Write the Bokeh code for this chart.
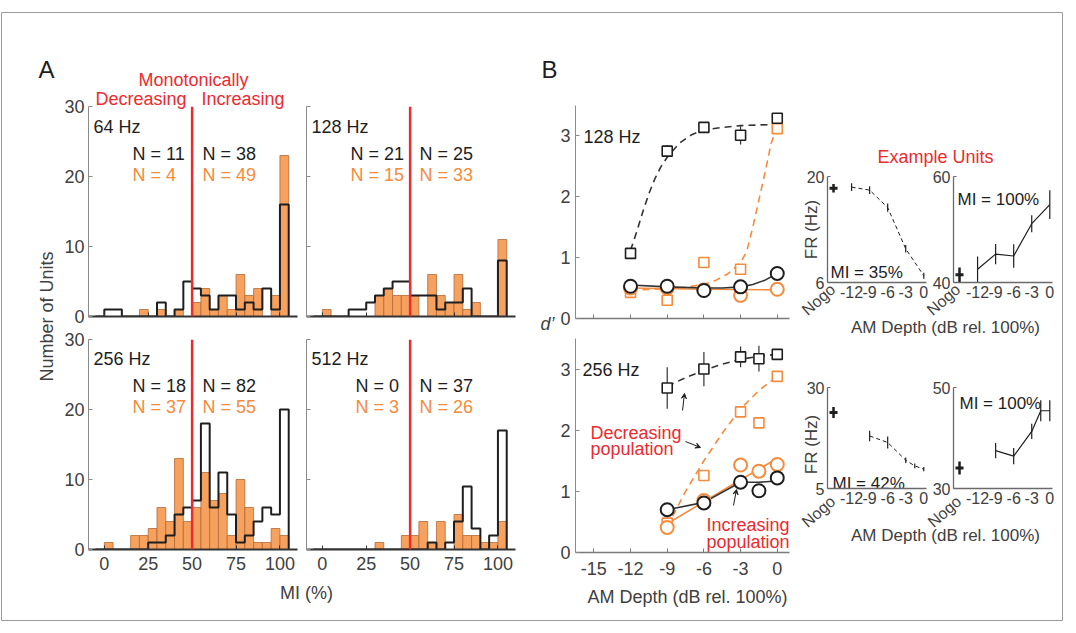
import numpy as np
from bokeh.plotting import figure
from bokeh.models import GridBox, Range1d, FixedTicker, Label, Arrow, VeeHead, Span, ColumnDataSource
from bokeh.embed import file_html
from bokeh.resources import INLINE

W, H = 1076, 633
FONT = "Liberation Sans"
ORANGE = "#F58B3C"
ORANGE_FILL = "#F69C54"
ORANGE_EDGE = "#B56A38"
RED = "#EC2B2F"
BLACK = "#1E1E1E"
TICK_TXT = "#404040"

# ---------------- Panel A data (histograms of MI) ----------------
bin_edges = [-5, 0, 5, 10, 15, 20, 25, 30, 35, 40, 45, 50, 55, 60, 65, 70, 75, 80, 85, 90, 95, 100, 105]
mi_split = 50
hist_titles = ["64 Hz", "128 Hz", "256 Hz", "512 Hz"]
black_64 = [0, 1, 1, 0, 0, 0, 0, 2, 0, 1, 5, 4, 3, 1, 3, 3, 1, 2, 1, 4, 1, 16]
orange_64 = [0, 0, 0, 0, 0, 1, 0, 1, 0, 1, 0, 2, 4, 1, 3, 1, 6, 3, 4, 0, 3, 23]
black_128 = [0, 0, 0, 0, 1, 1, 2, 3, 4, 5, 5, 3, 3, 3, 1, 2, 2, 4, 0, 0, 0, 8]
orange_128 = [0, 1, 0, 0, 0, 0, 0, 3, 4, 3, 3, 3, 0, 6, 3, 2, 6, 1, 2, 0, 0, 11]
black_256 = [0, 0, 0, 0, 0, 0, 1, 1, 2, 5, 6, 7, 18, 6, 11, 5, 1, 2, 4, 6, 5, 20]
orange_256 = [0, 1, 0, 0, 2, 2, 3, 6, 4, 13, 4, 6, 11, 7, 8, 2, 10, 6, 1, 1, 3, 2]
black_512 = [0, 0, 0, 0, 0, 0, 0, 0, 0, 0, 0, 0, 0, 1, 0, 1, 4, 9, 3, 0, 2, 17]
orange_512 = [0, 0, 0, 0, 0, 0, 0, 1, 0, 0, 2, 2, 4, 1, 4, 0, 5, 2, 2, 1, 1, 4]
n_dec_black = [11, 21, 18, 0]
n_inc_black = [38, 25, 82, 37]
n_dec_orange = [4, 15, 37, 3]
n_inc_orange = [49, 33, 55, 26]
hist_xticks = [0, 25, 50, 75, 100]
hist_yticks = [0, 10, 20, 30]

# ---------------- Panel B data (d' vs AM depth) ----------------
depth_128 = [-12, -9, -6, -3, 0]
dec_black_128 = [1.07, 2.75, 3.14, 3.01, 3.29]
dec_black_128_err = [0.08, 0.10, 0.07, 0.15, 0.08]
dec_orange_128 = [0.43, 0.30, 0.92, 0.81, 3.12]
inc_black_128 = [0.53, 0.53, 0.46, 0.52, 0.74]
inc_orange_128 = [0.50, 0.50, 0.47, 0.38, 0.48]
fit_dec_black_128_x = [-12, -11.5, -11, -10.5, -10, -9.5, -9, -8, -7, -6, -4.5, -3, -1.5, 0]
fit_dec_black_128_y = [1.12, 1.42, 1.75, 2.05, 2.3, 2.5, 2.65, 2.88, 3.02, 3.1, 3.14, 3.17, 3.18, 3.19]
fit_dec_orange_128_x = [-12, -10, -8, -6, -5, -4, -3, -2.5, -2, -1.5, -1, -0.5, 0]
fit_dec_orange_128_y = [0.47, 0.48, 0.5, 0.56, 0.63, 0.74, 0.92, 1.1, 1.5, 1.95, 2.4, 2.88, 3.15]
fit_inc_black_128_x = [-12, -9, -6, -4.5, -3, -2, -1, 0]
fit_inc_black_128_y = [0.55, 0.52, 0.5, 0.5, 0.52, 0.56, 0.63, 0.74]
fit_inc_orange_128_x = [-12, -6, 0]
fit_inc_orange_128_y = [0.5, 0.48, 0.47]

depth_256 = [-9, -6, -3, -1.5, 0]
dec_black_256 = [2.69, 3.00, 3.20, 3.17, 3.24]
dec_black_256_err = [0.34, 0.28, 0.17, 0.21, 0.05]
dec_orange_256 = [0.48, 1.26, 2.30, 2.12, 2.88]
inc_black_256 = [0.70, 0.81, 1.15, 1.01, 1.22]
inc_orange_256 = [0.41, 0.85, 1.43, 1.33, 1.44]
fit_dec_black_256_x = [-9, -7.5, -6, -4.5, -3, -1.5, 0]
fit_dec_black_256_y = [2.72, 2.86, 2.98, 3.08, 3.16, 3.21, 3.24]
fit_dec_orange_256_x = [-9, -7.5, -6, -4.5, -3, -1.5, 0]
fit_dec_orange_256_y = [0.42, 1.0, 1.5, 1.95, 2.35, 2.65, 2.88]
fit_inc_black_256_x = [-9, -6, -3, -1.5, 0]
fit_inc_black_256_y = [0.70, 0.82, 1.15, 1.15, 1.17]
fit_inc_orange_256_x = [-9, -6, -3, 0]
fit_inc_orange_256_y = [0.47, 0.83, 1.19, 1.54]
dprime_xticks = [-15, -12, -9, -6, -3, 0]
dprime_yticks = [0, 1, 2, 3]

# ---------------- Example units (firing rate) ----------------
nogo_x = -15
ex1_depth = [-12, -9, -6, -3, 0]
ex1_fr = [18.6, 18.2, 15.9, 10.45, 6.9]
ex1_err = [0.5, 0.5, 0.55, 0.5, 0.4]
ex1_nogo, ex1_nogo_err = 18.45, 0.55
ex2_depth = [-12, -9, -6, -3, 0]
ex2_fr = [42.5, 45.35, 45.0, 51.1, 54.7]
ex2_err = [2.4, 1.9, 2.2, 1.6, 2.7]
ex2_nogo, ex2_nogo_err = 41.45, 1.4
ex3_depth = [-9, -6, -3, -1.5, 0]
ex3_fr = [18.0, 16.4, 12.0, 10.6, 9.8]
ex3_err = [1.3, 1.5, 0.7, 0.6, 0.5]
ex3_nogo, ex3_nogo_err = 23.8, 1.36
ex4_depth = [-9, -6, -3, -1.5, 0]
ex4_fr = [37.5, 36.4, 41.3, 45.4, 45.4]
ex4_err = [1.5, 1.6, 1.5, 2.1, 2.1]
ex4_nogo, ex4_nogo_err = 34.05, 1.3
ex_xticks = [-15, -12, -9, -6, -3, 0]
ex_mi_labels = ["MI = 35%", "MI = 100%", "MI = 42%", "MI = 100%"]

figs = []


def base(**kw):
    p = figure(width=W, height=H, output_backend="svg", toolbar_location=None, frame_align=False, **kw)
    p.grid.visible = False
    figs.append(p)
    return p


# background (white) + all free text in pixel coordinates
bg = base(x_range=Range1d(0, W), y_range=Range1d(H, 0), min_border_left=0, min_border_right=0,
          min_border_top=0, min_border_bottom=0, x_axis_location=None, y_axis_location=None,
          background_fill_color="white", border_fill_color="white", outline_line_color=None)

# outer frame line
frm = base(min_border_left=1, min_border_right=14, min_border_top=12, min_border_bottom=13,
           x_axis_location=None, y_axis_location=None, background_fill_alpha=0,
           border_fill_alpha=0, outline_line_color="#9a9a9a", outline_line_width=1)


def txt(s, X, Y, size="18px", color=BLACK, align="left", baseline="alphabetic", angle=0.0, style="normal"):
    bg.add_layout(Label(x=X, y=Y, text=s, text_font=FONT, text_font_size=size, text_color=color,
                        text_align=align, text_baseline=baseline, angle=angle, text_font_style=style))


def panel(box, xr, yr):
    x0, y0, x1, y1 = box
    return base(x_range=Range1d(*xr), y_range=Range1d(*yr), min_border_left=x0, min_border_right=W - x1,
                min_border_top=y0, min_border_bottom=H - y1, background_fill_alpha=0,
                border_fill_alpha=0, outline_line_color=None)


def hyphen(ticks, blank=()):
    return {t: ("" if t in blank else ("%g" % t)) for t in ticks}


def axes(p, xticks, yticks, xlab=True, ylab=True, xcol="#5a5a5a", ycol="#8a8a8a", xw=1.3, yw=1.0,
         size="18px", xstand=8, ystand=4, xin=4, yin=4, xover=None):
    xa, ya = p.xaxis[0], p.yaxis[0]
    xa.ticker = FixedTicker(ticks=xticks)
    ya.ticker = FixedTicker(ticks=yticks)
    for a in (xa, ya):
        a.minor_tick_line_color = None
        a.major_tick_out = 0
        a.major_label_text_font = FONT
        a.major_label_text_font_size = size
        a.major_label_text_color = TICK_TXT
    xa.major_tick_in, ya.major_tick_in = xin, yin
    xa.axis_line_color, xa.major_tick_line_color, xa.axis_line_width = xcol, xcol, xw
    ya.axis_line_color, ya.major_tick_line_color, ya.axis_line_width = ycol, ycol, yw
    xa.major_label_standoff = xstand
    ya.major_label_standoff = ystand
    if not xlab:
        xa.major_label_overrides = {t: "" for t in xticks}
    else:
        xa.major_label_overrides = xover if xover else hyphen(xticks)
    if not ylab:
        ya.major_label_overrides = {t: "" for t in yticks}


# ---------------- Panel A ----------------
hist_boxes = [(88, 106, 297, 316), (306, 106, 515, 316), (88, 339, 297, 549), (306, 339, 515, 549)]
hist_black = [black_64, black_128, black_256, black_512]
hist_orange = [orange_64, orange_128, orange_256, orange_512]
for i in range(4):
    p = panel(hist_boxes[i], (-9, 110), (0, 30))
    src = ColumnDataSource(dict(left=bin_edges[:-1], right=bin_edges[1:], top=hist_orange[i]))
    p.quad(left="left", right="right", top="top", bottom=0, source=src, fill_color=ORANGE_FILL,
           fill_alpha=0.95, line_color=ORANGE_EDGE, line_width=1, line_alpha=0.8)
    p.step(x=bin_edges, y=list(hist_black[i]) + [0], mode="after", line_color=BLACK, line_width=2)
    p.add_layout(Span(location=mi_split, dimension="height", line_color=RED, line_width=2.5))
    axes(p, hist_xticks, hist_yticks, xlab=(i >= 2), ylab=(i % 2 == 0), xcol="#333333", xw=2.0,
         ycol="#8a8a8a", yw=1.0, xstand=7, ystand=4)

# Panel A texts
txt("A", 46, 69, size="24px", align="center")
txt("Monotonically", 193, 79, color=RED, align="center")
txt("Decreasing", 186, 98, color=RED, align="right")
txt("Increasing", 201, 98, color=RED, align="left")
hist_title_pos = [(93, 126), (311, 126), (93, 358), (311, 358)]
hist_n_left = [132, 350, 132, 355]
hist_n_right = [202, 419, 202, 419]
for i in range(4):
    tx, ty = hist_title_pos[i]
    txt(hist_titles[i], tx, ty)
    txt("N = %d" % n_dec_black[i], hist_n_left[i], ty + 27)
    txt("N = %d" % n_inc_black[i], hist_n_right[i], ty + 27)
    txt("N = %d" % n_dec_orange[i], hist_n_left[i], ty + 48, color=ORANGE)
    txt("N = %d" % n_inc_orange[i], hist_n_right[i], ty + 48, color=ORANGE)
txt("Number of Units", 46, 316, color=TICK_TXT, align="center", baseline="middle", angle=np.pi / 2)
txt("MI (%)", 306, 592, color=TICK_TXT, align="center", baseline="middle")

# ---------------- Panel B ----------------
def dprime_panel(box, depth, dec_b, dec_b_err, dec_o, inc_b, inc_o, fits, xlab):
    p = panel(box, (-16.5, 1.0), (0, 3.5))
    (fdbx, fdby), (fdox, fdoy), (fibx, fiby), (fiox, fioy) = fits
    p.line(fdox, fdoy, line_color=ORANGE, line_width=1.6, line_dash="7 5")
    p.line(fiox, fioy, line_color=ORANGE, line_width=1.6)
    p.line(fdbx, fdby, line_color="#333333", line_width=1.6, line_dash="7 5")
    p.line(fibx, fiby, line_color="#333333", line_width=1.6)
    lo = [v - e for v, e in zip(dec_b, dec_b_err)]
    hi = [v + e for v, e in zip(dec_b, dec_b_err)]
    p.segment(x0=depth, y0=lo, x1=depth, y1=hi, line_color="#333333", line_width=1.2)
    p.scatter(depth, dec_o, marker="square", size=10, fill_color="white", line_color=ORANGE, line_width=1.6)
    p.scatter(depth, inc_o, marker="circle", size=13, fill_color="white", line_color=ORANGE, line_width=2)
    p.scatter(depth, dec_b, marker="square", size=10, fill_color="white", line_color=BLACK, line_width=1.6)
    p.scatter(depth, inc_b, marker="circle", size=13, fill_color="white", line_color=BLACK, line_width=2)
    axes(p, dprime_xticks, dprime_yticks, xlab=xlab, ylab=True, xcol="#7a7a7a", xw=1.3, ycol="#8a8a8a",
         yw=1.0, xstand=9, ystand=5)
    return p


dprime_panel((575, 105, 789, 318), depth_128, dec_black_128, dec_black_128_err, dec_orange_128,
             inc_black_128, inc_orange_128,
             [(fit_dec_black_128_x, fit_dec_black_128_y), (fit_dec_orange_128_x, fit_dec_orange_128_y),
              (fit_inc_black_128_x, fit_inc_black_128_y), (fit_inc_orange_128_x, fit_inc_orange_128_y)], False)
dprime_panel((575, 338, 789, 552), depth_256, dec_black_256, dec_black_256_err, dec_orange_256,
             inc_black_256, inc_orange_256,
             [(fit_dec_black_256_x, fit_dec_black_256_y), (fit_dec_orange_256_x, fit_dec_orange_256_y),
              (fit_inc_black_256_x, fit_inc_black_256_y), (fit_inc_orange_256_x, fit_inc_orange_256_y)], True)

txt("B", 549, 69, size="24px", align="center")
txt("128 Hz", 583, 136)
txt("256 Hz", 582, 369)
txt("d\u2019", 547, 323, color=TICK_TXT, align="center", baseline="middle", style="italic")
txt("AM Depth (dB rel. 100%)", 687, 596, color=TICK_TXT, align="center", baseline="middle")
txt("Decreasing", 590, 432, color=RED)
txt("population", 590, 448, color=RED)
txt("Increasing", 706, 524, color=RED)
txt("population", 706, 541, color=RED)
for (xs, ys, xe, ye) in [(682, 410, 684, 393), (685, 441, 700, 447), (733, 505, 736, 489)]:
    bg.add_layout(Arrow(end=VeeHead(size=5, line_color=BLACK, line_width=1, fill_color=BLACK),
                        x_start=xs, y_start=ys, x_end=xe, y_end=ye, line_color=BLACK, line_width=1))

# ---------------- Example units ----------------
ex_boxes = [(827, 176, 926, 282), (953, 176, 1052, 282), (827, 387, 926, 488), (953, 387, 1052, 488)]
ex_yr = [(6, 20), (40, 60), (5, 30), (30, 50)]
ex_data = [(ex1_depth, ex1_fr, ex1_err, ex1_nogo, ex1_nogo_err, True),
           (ex2_depth, ex2_fr, ex2_err, ex2_nogo, ex2_nogo_err, False),
           (ex3_depth, ex3_fr, ex3_err, ex3_nogo, ex3_nogo_err, True),
           (ex4_depth, ex4_fr, ex4_err, ex4_nogo, ex4_nogo_err, False)]
for i in range(4):
    d, fr, er, ng, nge, dashed = ex_data[i]
    p = panel(ex_boxes[i], (-16, 0.45), ex_yr[i])
    if dashed:
        p.line(d, fr, line_color=BLACK, line_width=1.0, line_dash="4 3")
    else:
        p.line(d, fr, line_color=BLACK, line_width=1.2)
    p.segment(x0=d, y0=[a - b for a, b in zip(fr, er)], x1=d, y1=[a + b for a, b in zip(fr, er)],
              line_color=BLACK, line_width=1.2)
    p.segment(x0=[nogo_x], y0=[ng - nge], x1=[nogo_x], y1=[ng + nge], line_color=BLACK, line_width=2.5)
    p.scatter([nogo_x], [ng], marker="dash", size=8, line_color=BLACK, line_width=3)
    axes(p, ex_xticks, list(ex_yr[i]), xlab=True, ylab=True, xcol="#6a6a6a", xw=1.3, ycol="#6a6a6a",
         yw=1.3, size="16px", xstand=3, ystand=3, xin=0, yin=3, xover=hyphen(ex_xticks, blank=(-15,)))

txt("Example Units", 935, 156, color=RED, align="center")
for (cx, cy) in [(818, 299), (943, 299), (818, 511), (944, 511)]:
    txt("Nogo", cx, cy, size="16px", color=TICK_TXT, align="center", baseline="middle", angle=0.72)
txt("FR (Hz)", 811, 229, size="17px", color=TICK_TXT, align="center", baseline="middle", angle=np.pi / 2)
txt("FR (Hz)", 811, 444, size="17px", color=TICK_TXT, align="center", baseline="middle", angle=np.pi / 2)
txt("AM Depth (dB rel. 100%)", 945, 327, size="17px", color=TICK_TXT, align="center", baseline="middle")
txt("AM Depth (dB rel. 100%)", 945, 535, size="17px", color=TICK_TXT, align="center", baseline="middle")
txt(ex_mi_labels[0], 830, 272, size="17px")
txt(ex_mi_labels[1], 957, 199, size="17px")
txt(ex_mi_labels[2], 832, 483, size="17px")
txt(ex_mi_labels[3], 959, 403, size="17px")

layout = GridBox(children=[(f, 0, 0) for f in figs])
open("out.html", "w").write(file_html(layout, INLINE))
